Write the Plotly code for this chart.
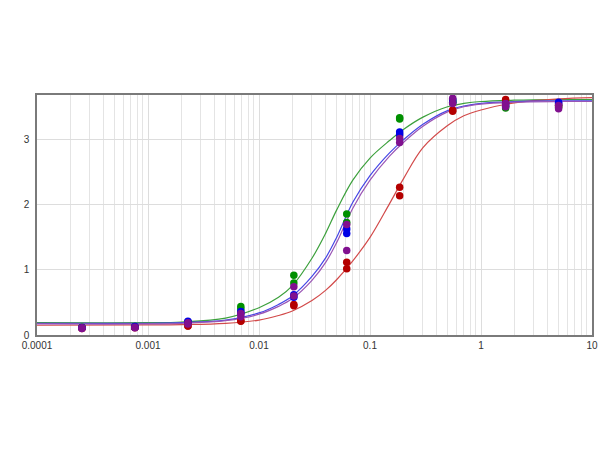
import plotly.graph_objects as go

# concentrations (3-fold dilution) where samples were measured
conc = [5, 1.667, 0.556, 0.185, 0.0617, 0.0206, 0.00686, 0.00229, 0.000762, 0.000254]

# replicate readings per series
green_r1 = [3.53, 3.52, 3.60, 3.34, 1.86, 0.92, 0.44, 0.20, 0.13, 0.12]
green_r2 = [3.50, 3.49, 3.58, 3.32, 1.73, 0.80, 0.40, 0.19, 0.12, 0.11]
red_r1 = [3.55, 3.62, 3.44, 2.27, 1.12, 0.47, 0.22, 0.14, 0.12, 0.11]
red_r2 = [3.52, 3.57, 3.46, 2.14, 1.02, 0.45, 0.21, 0.14, 0.11, 0.10]
blue_r1 = [3.58, 3.55, 3.62, 3.12, 1.63, 0.62, 0.36, 0.21, 0.13, 0.11]
blue_r2 = [3.55, 3.52, 3.58, 3.08, 1.56, 0.58, 0.33, 0.20, 0.12, 0.11]
purple_r1 = [3.53, 3.56, 3.64, 3.02, 1.70, 0.74, 0.33, 0.19, 0.12, 0.11]
purple_r2 = [3.48, 3.51, 3.56, 2.96, 1.30, 0.60, 0.28, 0.17, 0.11, 0.10]

curve_x = [0.0001, 0.001, 0.002, 0.005, 0.01, 0.015, 0.02, 0.03, 0.04, 0.05,
           0.07, 0.1, 0.15, 0.2, 0.3, 0.5, 0.7, 1, 2, 5, 10]
green_fit = [0.19, 0.19, 0.20, 0.26, 0.42, 0.58, 0.76, 1.18, 1.57, 1.92,
             2.38, 2.72, 2.99, 3.16, 3.35, 3.51, 3.56, 3.59, 3.61, 3.62, 3.62]
blue_fit = [0.18, 0.18, 0.19, 0.23, 0.34, 0.47, 0.60, 0.90, 1.19, 1.50,
            2.04, 2.45, 2.80, 3.00, 3.24, 3.45, 3.52, 3.56, 3.59, 3.60, 3.60]
purple_fit = [0.17, 0.17, 0.18, 0.22, 0.32, 0.44, 0.56, 0.84, 1.12, 1.42,
              1.95, 2.38, 2.75, 2.96, 3.21, 3.43, 3.51, 3.55, 3.58, 3.59, 3.59]
red_fit = [0.15, 0.155, 0.16, 0.18, 0.23, 0.30, 0.37, 0.53, 0.69, 0.85,
           1.14, 1.50, 2.02, 2.40, 2.88, 3.22, 3.37, 3.46, 3.57, 3.63, 3.65]

series = [
    ("green", green_fit, green_r1, green_r2, "#3ca03c", "#009000"),
    ("red", red_fit, red_r1, red_r2, "#d24a4a", "#b40000"),
    ("blue", blue_fit, blue_r1, blue_r2, "#4646e6", "#0000e6"),
    ("purple", purple_fit, purple_r1, purple_r2, "#9a55b5", "#80108f"),
]

fig = go.Figure()

# curves underneath
for name, fit, r1, r2, lc, mc in series:
    fig.add_trace(go.Scatter(x=curve_x, y=fit, mode="lines", name=name,
                             line=dict(color=lc, width=1.2, shape="spline", smoothing=1.0),
                             hoverinfo="skip"))

# points on top
for name, fit, r1, r2, lc, mc in series:
    fig.add_trace(go.Scatter(x=conc + conc, y=r1 + r2, mode="markers", name=name,
                             marker=dict(color=mc, size=7.5)))

decades = [0.0001, 0.001, 0.01, 0.1, 1, 10]
minor_vals = [m * d for d in decades[:-1] for m in range(2, 10)]

fig.update_layout(
    width=600, height=450,
    margin=dict(l=37, r=8, t=95, b=115),
    paper_bgcolor="white",
    plot_bgcolor="white",
    showlegend=False,
    font=dict(family="Liberation Sans, Arial", size=10, color="#333333"),
    xaxis=dict(
        type="log",
        range=[-4, 1],
        tickvals=decades,
        ticktext=["0.0001", "0.001", "0.01", "0.1", "1", "10"],
        showgrid=True, gridcolor="#dddddd", gridwidth=1,
        minor=dict(tickvals=minor_vals, showgrid=True, gridcolor="#e4e4e4", gridwidth=1),
        showline=True, mirror=True, linecolor="#7a7a7a", linewidth=1.5,
        ticks="", zeroline=False, automargin=False,
    ),
    yaxis=dict(
        range=[0, 3.69],
        tickvals=[0, 1, 2, 3],
        showgrid=True, gridcolor="#dddddd", gridwidth=1,
        showline=True, mirror=True, linecolor="#7a7a7a", linewidth=1.5,
        ticks="", zeroline=False, ticklabelstandoff=4, automargin=False,
    ),
)

# drop the default page margin so the figure sits at the window corner
fig.write_html("out.html", config={"displayModeBar": False},
               post_script="document.body.style.margin='0';")
